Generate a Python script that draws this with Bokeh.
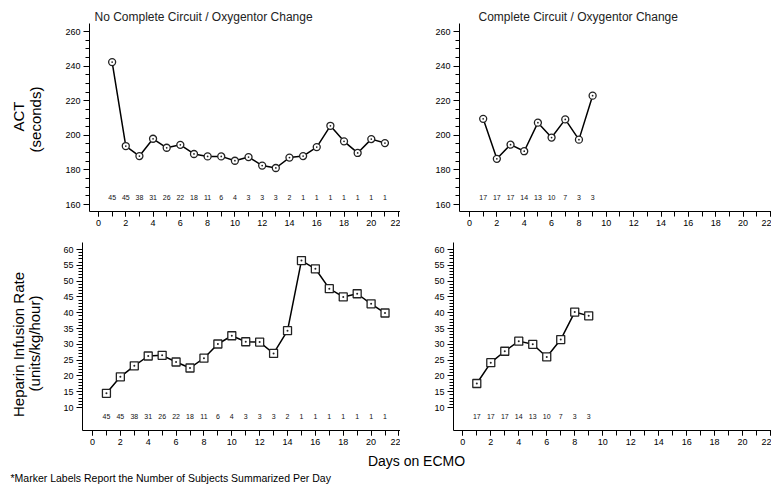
import math
from bokeh.plotting import figure
from bokeh.layouts import column, row
from bokeh.models import Label, FixedTicker, Range1d, ColumnDataSource
from bokeh.core.properties import value
from bokeh.embed import file_html
from bokeh.resources import INLINE

# ---------------- data ----------------
days_left = list(range(1, 22))
days_right = list(range(1, 10))
act_left = [242.3, 193.8, 188.0, 198.0, 192.8, 194.5, 189.2, 187.8, 187.8, 185.3, 187.4,
            182.5, 181.1, 187.1, 188.0, 193.2, 205.5, 196.5, 189.8, 197.8, 195.5]
act_right = [209.5, 186.4, 194.6, 190.8, 207.3, 198.7, 209.2, 197.5, 222.9]
hep_left = [14.5, 19.7, 23.2, 26.3, 26.5, 24.4, 22.5, 25.6, 30.1, 32.7, 30.8,
            30.7, 27.1, 34.3, 56.5, 53.9, 47.6, 45.0, 46.0, 42.8, 39.9]
hep_right = [17.6, 24.2, 27.8, 31.0, 30.0, 26.0, 31.5, 40.2, 39.0]
n_left = [45, 45, 38, 31, 26, 22, 18, 11, 6, 4, 3, 3, 3, 2, 1, 1, 1, 1, 1, 1, 1]
n_right = [17, 17, 17, 14, 13, 10, 7, 3, 3]

title_left = "No Complete Circuit / Oxygentor Change"
title_right = "Complete Circuit / Oxygentor Change"
ytitle_top = ["ACT", "(seconds)"]
ytitle_bottom = ["Heparin Infusion Rate", "(units/kg/hour)"]
xtitle = "Days on ECMO"
footnote = "*Marker Labels Report the Number of Subjects Summarized Per Day"
x_ticks = list(range(0, 23, 2))
x_minor = list(range(0, 23))
act_ticks = list(range(160, 261, 20))
act_minor = list(range(160, 261, 5))
hep_ticks = list(range(10, 61, 5))
hep_minor = list(range(10, 61))

FONT = "Liberation Sans"


def make_panel(fig_box, frame_box, xcal, ycal, xs, ys, counts, count_y, marker, msize,
               yticks, yminor, title, title_x):
    fx0, fy0, fw, fh = fig_box
    L, T, R, B = frame_box
    x0, sx = xcal
    va, pa, vb, pb = ycal

    def px2x(px):
        return (px - x0) / sx

    def px2y(py):
        return va + (py - pa) * (vb - va) / (pb - pa)

    p = figure(width=fw, height=fh, output_backend="svg", toolbar_location=None,
               x_range=Range1d(px2x(L), px2x(R)), y_range=Range1d(px2y(B), px2y(T)),
               min_border_left=L - fx0, min_border_right=fx0 + fw - R,
               min_border_top=T - fy0, min_border_bottom=fy0 + fh - B)
    p.outline_line_color = None
    p.grid.visible = False
    p.background_fill_color = "white"
    p.border_fill_color = "white"

    for ax in (p.xaxis[0], p.yaxis[0]):
        ax.axis_line_color = "black"
        ax.axis_line_width = 1
        ax.major_tick_line_color = "black"
        ax.minor_tick_line_color = "black"
        ax.major_tick_in = 0
        ax.minor_tick_in = 0
        ax.major_label_text_font = FONT
        ax.major_label_text_font_size = "9px"
        ax.major_label_text_color = "black"
        ax.major_label_standoff = 3
    p.xaxis[0].ticker = FixedTicker(ticks=x_ticks, minor_ticks=x_minor)
    p.xaxis[0].major_tick_out = 5
    p.xaxis[0].minor_tick_out = 5
    p.yaxis[0].ticker = FixedTicker(ticks=yticks, minor_ticks=yminor)
    p.yaxis[0].major_tick_out = 6
    p.yaxis[0].minor_tick_out = 4

    src = ColumnDataSource(dict(x=xs, y=ys, n=[str(c) for c in counts],
                                ny=[count_y] * len(xs)))
    p.line("x", "y", source=src, line_color="black", line_width=1.5)
    p.scatter("x", "y", source=src, marker=marker, size=msize, fill_color="white",
              line_color="#222222", line_width=1.3)
    p.text("x", "ny", text="n", source=src, text_font=value(FONT),
           text_font_size="7px", text_align="center", text_baseline="middle",
           text_color="#111111")

    if title is not None:
        p.title.text = title
        p.title.align = "left"
        p.title.offset = title_x - L
        p.title.standoff = 0
        p.title.text_font = FONT
        p.title.text_font_size = "12px"
        p.title.text_font_style = "normal"
        p.title.text_color = "#222222"
    return p


act_cal = (260, 31, 160, 204)
hep_cal = (60, 249, 10, 407)

p_tl = make_panel((50, 0, 350, 232), (89, 23, 400, 211), (98, 13.64), act_cal,
                  days_left, act_left, n_left, 164.2, "circle_dot", 7,
                  act_ticks, act_minor, title_left, 94)
p_tr = make_panel((400, 0, 371, 232), (459, 23, 771, 211), (469, 13.68), act_cal,
                  days_right, act_right, n_right, 164.2, "circle_dot", 7,
                  act_ticks, act_minor, title_right, 478)
p_bl = make_panel((50, 232, 350, 220), (82, 242, 400, 430), (92, 13.93), hep_cal,
                  days_left, hep_left, n_left, 7.3, "square_dot", 8,
                  hep_ticks, hep_minor, None, 0)
p_br = make_panel((400, 232, 371, 220), (453, 242, 771, 430), (462.3, 13.99), hep_cal,
                  days_right, hep_right, n_right, 7.3, "square_dot", 8,
                  hep_ticks, hep_minor, None, 0)

# left strip holding the rotated y-axis titles (coordinates = page pixels)
strip = figure(width=50, height=452, output_backend="svg", toolbar_location=None,
               x_range=Range1d(0, 50), y_range=Range1d(452, 0), min_border=0,
               outline_line_color=None)
strip.axis.visible = False
strip.grid.visible = False
for (tx, ty, txt) in [(18, 116, ytitle_top[0]), (35, 119, ytitle_top[1]),
                      (18, 344, ytitle_bottom[0]), (34, 343, ytitle_bottom[1])]:
    strip.add_layout(Label(x=tx, y=ty, text=txt, text_font=FONT, text_font_size="15px",
                           text_align="center", text_baseline="middle",
                           angle=math.pi / 2, text_color="black"))

# footer with shared x-axis title and footnote
foot = figure(width=771, height=37, output_backend="svg", toolbar_location=None,
              x_range=Range1d(0, 771), y_range=Range1d(37, 0),
              min_border=0, outline_line_color=None)
foot.axis.visible = False
foot.grid.visible = False
foot.add_layout(Label(x=416, y=8, text=xtitle, text_font=FONT,
                      text_font_size="14px", text_align="center",
                      text_baseline="middle", text_color="black"))
foot.add_layout(Label(x=10, y=25, text=footnote,
                      text_font=FONT, text_font_size="10.5px", text_align="left",
                      text_baseline="middle", text_color="black"))

panels = column(row(p_tl, p_tr, spacing=0), row(p_bl, p_br, spacing=0), spacing=0)
layout = column(row(strip, panels, spacing=0), foot, spacing=0)

open("out.html", "w").write(file_html(layout, INLINE))
